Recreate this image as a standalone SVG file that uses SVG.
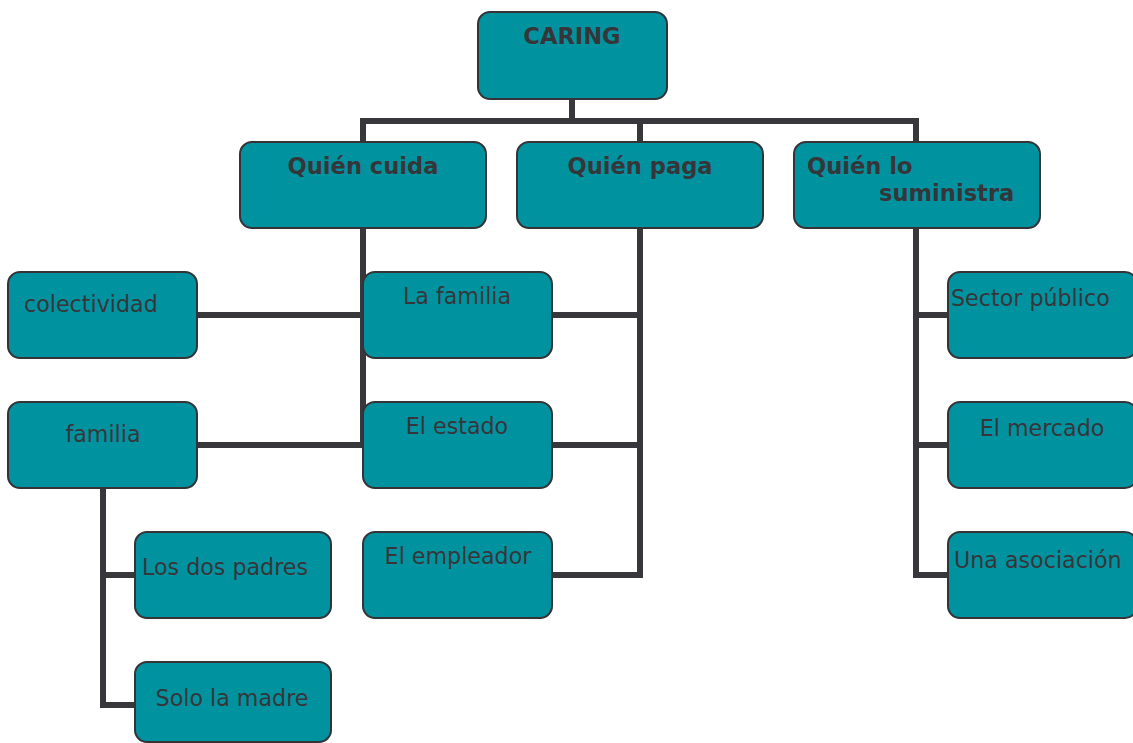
<svg xmlns="http://www.w3.org/2000/svg" width="1133" height="743" viewBox="0 0 1133 743">
<style>
.box{fill:#00929F;stroke:#333338;stroke-width:2}
.t{font-family:"DejaVu Sans",Verdana,sans-serif;font-size:22.2px;fill:#36363A}
.b{font-weight:bold;font-size:22.6px}
.m{text-anchor:middle}
.c{fill:none;stroke:#38383C;stroke-width:6;stroke-linecap:butt}
</style>
<rect width="1133" height="743" fill="#fff"/>
<g id="connectors" class="c">
<path d="M572 99V121M360 121H919M363 121V142M640 121V142M916 121V142"/>
<path d="M363 228V448M197 315H363M197 445H363"/>
<path d="M640 228V578M552 315H640M552 445H640M552 575H640"/>
<path d="M916 228V578M916 315H948M916 445H948M913 575H948"/>
<path d="M103 488V708M100 575H135M100 705H135"/>
</g>
<g id="caring"><rect class="box" x="478" y="12" width="189" height="87" rx="12"/><text class="t b m" x="572" y="44">CARING</text></g>
<g id="quien-cuida"><rect class="box" x="240" y="142" width="246" height="86" rx="12"/><text class="t b m" x="363" y="174">Quién cuida</text></g>
<g id="quien-paga"><rect class="box" x="517" y="142" width="246" height="86" rx="12"/><text class="t b m" x="640" y="174">Quién paga</text></g>
<g id="quien-suministra"><rect class="box" x="794" y="142" width="246" height="86" rx="12"/><text class="t b" x="807" y="174">Quién lo</text><text class="t b" x="879" y="201">suministra</text></g>
<g id="colectividad"><rect class="box" x="8" y="272" width="189" height="86" rx="12"/><text class="t" x="24" y="312">colectividad</text></g>
<g id="familia"><rect class="box" x="8" y="402" width="189" height="86" rx="12"/><text class="t m" x="103" y="442">familia</text></g>
<g id="la-familia"><rect class="box" x="363" y="272" width="189" height="86" rx="12"/><text class="t m" x="457" y="304">La familia</text></g>
<g id="el-estado"><rect class="box" x="363" y="402" width="189" height="86" rx="12"/><text class="t m" x="457" y="434">El estado</text></g>
<g id="el-empleador"><rect class="box" x="363" y="532" width="189" height="86" rx="12"/><text class="t m" x="458" y="564">El empleador</text></g>
<g id="los-dos-padres"><rect class="box" x="135" y="532" width="196" height="86" rx="12"/><text class="t" x="142" y="575">Los dos padres</text></g>
<g id="solo-la-madre"><rect class="box" x="135" y="662" width="196" height="80" rx="12"/><text class="t m" x="232" y="706">Solo la madre</text></g>
<g id="sector-publico"><rect class="box" x="948" y="272" width="189" height="86" rx="12"/><text class="t" x="951" y="306">Sector público</text></g>
<g id="el-mercado"><rect class="box" x="948" y="402" width="189" height="86" rx="12"/><text class="t m" x="1042" y="436">El mercado</text></g>
<g id="una-asociacion"><rect class="box" x="948" y="532" width="189" height="86" rx="12"/><text class="t" x="954" y="568">Una asociación</text></g>
</svg>
